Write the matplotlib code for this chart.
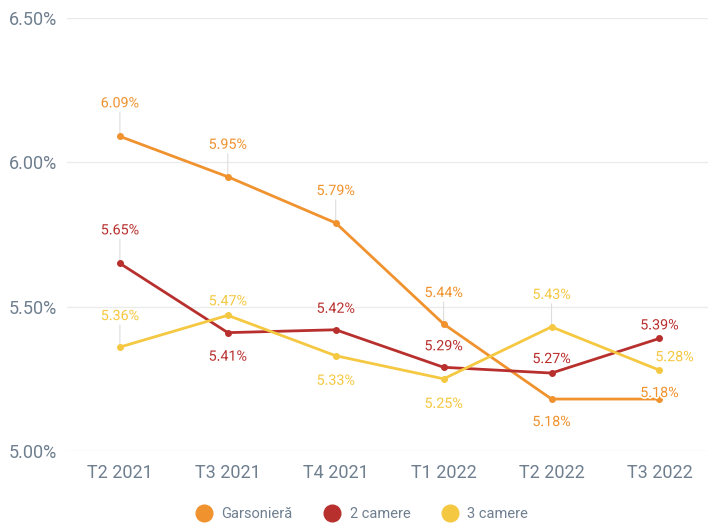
import matplotlib.pyplot as plt
import matplotlib.patheffects as pe
from matplotlib.lines import Line2D

plt.rcParams['font.family'] = ['Roboto', 'DejaVu Sans']

quarters = ['T2 2021', 'T3 2021', 'T4 2021', 'T1 2022', 'T2 2022', 'T3 2022']
garsoniera = [6.09, 5.95, 5.79, 5.44, 5.18, 5.18]
camere_2 = [5.65, 5.41, 5.42, 5.29, 5.27, 5.39]
camere_3 = [5.36, 5.47, 5.33, 5.25, 5.43, 5.28]
series_names = ['Garsonieră', '2 camere', '3 camere']

colors = ['#F0922E', '#B8302E', '#F5C842']
# label offsets in pixels (dx, dy up)
offsets = [
    [(0, 33), (0, 32), (0, 32), (0, 31), (0, -23), (0, 6)],
    [(0, 33), (0, -24), (0, 21), (0, 21), (0, 14), (0, 13)],
    [(0, 31), (0, 14), (0, -25), (0, -25), (0, 32), (15, 13)],
]

fig = plt.figure(figsize=(7.08, 5.23), dpi=100)
ax = fig.add_axes([67 / 708, 72 / 523, 641 / 708, 433 / 523])

x = list(range(len(quarters)))
px = 72 / 100  # points per pixel
for vals, col, offs in zip([garsoniera, camere_2, camere_3], colors, offsets):
    ax.plot(x, vals, color=col, lw=2.0, marker='o', ms=4, zorder=3)
    for xi, v, (dx, dy) in zip(x, vals, offs):
        if dy > 25:
            ax.annotate('', xy=(xi, v), xytext=(dx * px, (dy - 9) * px),
                        textcoords='offset points',
                        arrowprops=dict(arrowstyle='-', color='#dddddd', lw=0.8,
                                        shrinkA=0, shrinkB=0), zorder=2)
        ax.annotate(f'{v:.2f}%', xy=(xi, v), xytext=(dx * px, dy * px),
                    textcoords='offset points', ha='center', va='center',
                    color=col, fontsize=10.3, zorder=4,
                    path_effects=[pe.withStroke(linewidth=2.5, foreground='white')])

ax.set_xlim(-0.49, 5.45)
ax.set_ylim(5.0, 6.5)
ax.set_yticks([5.0, 5.5, 6.0, 6.5])
ax.set_yticklabels(['5.00%', '5.50%', '6.00%', '6.50%'])
ax.set_xticks(x)
ax.set_xticklabels(quarters)
ax.grid(axis='y', color='#ebebeb', lw=1)
ax.set_axisbelow(True)
for s in ax.spines.values():
    s.set_visible(False)
ax.tick_params(axis='both', length=0, colors='#6f7f8f', labelsize=13)
ax.tick_params(axis='y', pad=7)
ax.tick_params(axis='x', pad=9)

handles = [Line2D([], [], marker='o', ls='', color=c, ms=12) for c in colors]
leg = fig.legend(handles, series_names, loc='center', bbox_to_anchor=(0.511, 0.017),
                 ncol=3, frameon=False, fontsize=10.5, handletextpad=0.6,
                 handlelength=1.2, columnspacing=2.1, labelcolor='#6f7f8f')

fig.savefig('out.png', dpi=100)
